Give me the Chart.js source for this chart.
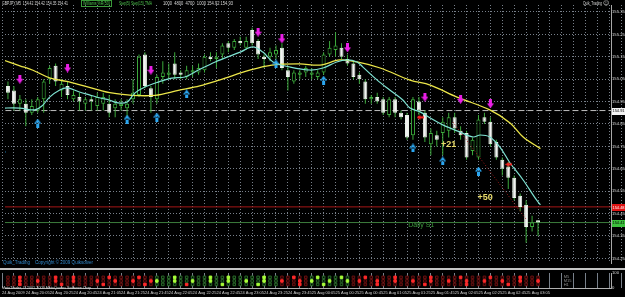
<!DOCTYPE html>
<html><head><meta charset="utf-8">
<script src="https://cdn.jsdelivr.net/npm/chart.js@4.4.1/dist/chart.umd.min.js"></script>
<style>
html,body{margin:0;padding:0;background:#000;width:625px;height:297px;overflow:hidden;}
#main{position:absolute;left:0;top:0;}
#sub{position:absolute;left:0;top:268px;}
</style></head><body>
<canvas id="main" width="625" height="268"></canvas>
<canvas id="sub" width="625" height="29"></canvas>
<script>
// ---------- DATA ----------
const opens  = [154.87,155.02,155.00,154.94,154.94,154.90,154.91,154.96,155.05,155.11,155.00,155.02,154.96,154.97,154.94,154.96,154.93,154.94,154.94,154.92,154.93,154.92,154.96,154.98,155.16,155.01,154.96,155.06,155.07,155.12,155.08,155.06,155.08,155.08,155.09,155.15,155.14,155.16,155.21,155.19,155.22,155.19,155.27,155.22,155.15,155.15,155.16,155.19,155.09,155.04,155.07,155.08,155.07,155.06,155.08,155.16,155.18,155.19,155.14,155.12,155.07,155.04,154.96,154.97,154.96,154.89,154.96,154.90,154.89,154.80,154.95,154.90,154.76,154.80,154.81,154.82,154.88,154.82,154.81,154.73,154.70,154.88,154.86,154.77,154.69,154.66,154.61,154.53,154.49,154.39,154.42];
const highs  = [155.05,155.04,155.02,154.98,154.96,154.96,154.97,155.05,155.11,155.12,155.05,155.04,155.00,154.99,154.97,154.98,154.99,154.99,154.98,154.96,154.96,154.96,155.05,155.16,155.17,155.02,155.07,155.13,155.12,155.17,155.09,155.11,155.11,155.12,155.16,155.17,155.17,155.21,155.22,155.23,155.24,155.24,155.28,155.23,155.16,155.19,155.20,155.21,155.11,155.09,155.09,155.11,155.10,155.09,155.17,155.22,155.26,155.21,155.16,155.13,155.08,155.05,154.98,154.99,154.97,154.97,154.97,154.91,154.90,154.97,154.97,154.91,154.83,154.82,154.88,154.90,154.90,154.84,154.82,154.79,154.89,154.90,154.88,154.78,154.70,154.68,154.62,154.54,154.51,154.44,154.42];
const lows   = [154.81,154.96,154.91,154.91,154.84,154.89,154.90,154.90,155.03,155.02,154.97,154.96,154.95,154.91,154.91,154.91,154.91,154.91,154.88,154.88,154.91,154.88,154.94,154.97,155.01,154.90,154.94,155.03,155.05,155.05,155.05,155.05,155.06,155.07,155.08,155.13,155.10,155.14,155.17,155.18,155.20,155.18,155.20,155.14,155.10,155.13,155.14,155.09,155.00,155.03,155.05,155.06,155.05,155.05,155.07,155.15,155.15,155.14,155.11,155.05,155.03,154.94,154.94,154.94,154.89,154.88,154.88,154.87,154.78,154.78,154.89,154.77,154.71,154.75,154.71,154.79,154.81,154.78,154.69,154.71,154.69,154.85,154.75,154.69,154.62,154.56,154.51,154.46,154.32,154.37,154.35];
const closes = [155.01,154.99,154.94,154.96,154.90,154.93,154.96,155.04,155.10,155.04,155.03,154.98,154.98,154.95,154.96,154.95,154.97,154.97,154.90,154.94,154.94,154.94,154.99,155.15,155.02,154.97,155.06,155.08,155.08,155.07,155.07,155.09,155.09,155.10,155.15,155.14,155.15,155.20,155.19,155.22,155.21,155.22,155.21,155.16,155.14,155.17,155.18,155.10,155.06,155.08,155.08,155.10,155.08,155.08,155.16,155.19,155.20,155.15,155.12,155.06,155.05,154.96,154.97,154.95,154.90,154.96,154.90,154.88,154.79,154.96,154.91,154.79,154.81,154.78,154.86,154.88,154.83,154.80,154.70,154.78,154.87,154.86,154.76,154.70,154.65,154.61,154.52,154.48,154.39,154.41,154.41];

const slowMaIdx = [-0.3,3,5.2,8.1,10.9,13.1,16.5,18.1,21.8,25.7,29.6,33.2,36.6,41.6,45.3,50,53.4,56.7,59.6,63.5,68.5,71.9,76.4,81.9,85.3,87.5,90.4];
const slowMaVal = [155.140,155.110,155.090,155.055,155.040,155.025,155.000,154.990,154.978,154.978,155.000,155.020,155.047,155.090,155.113,155.118,155.113,155.136,155.127,155.100,155.046,155.024,154.970,154.913,154.855,154.792,154.740];
const fastMaIdx = [-0.3,3,5.5,6.7,8,9.7,11,13,14.8,16.5,18,19.5,21,22.3,24,26.2,28.5,30.7,33,35.8,40,42.1,43.8,45.5,48.4,51.7,53.9,56.2,57.9,59.6,60.6,63,65.1,67.3,68.5,70.2,71.9,74,76.9,79.1,80.3,81.9,83.6,85.3,87.5,89.5,90.4];
const fastMaVal = [154.921,154.921,154.913,154.930,154.970,155.002,155.011,154.993,154.979,154.966,154.957,154.944,154.948,154.988,155.015,155.037,155.055,155.060,155.091,155.127,155.171,155.194,155.171,155.127,155.104,155.091,155.100,155.127,155.136,155.127,155.104,155.046,155.002,154.957,154.921,154.904,154.877,154.846,154.814,154.792,154.801,154.792,154.747,154.676,154.600,154.520,154.489];

const sellIdx   = [3,11,25,43,47,58,71,77,82];
const sellPrice = [155.05,155.10,155.09,155.26,155.23,155.19,154.97,154.96,154.94];
const buyIdx    = [0,6,21,26,31,46,54,69,74,80];
const buyPrice  = [154.725,154.854,154.872,154.881,154.984,155.118,155.046,154.743,154.685,154.640];
const exitIdx   = [70.2,85.1];
const exitPrice = [154.88,154.67];

const trendIdx   = [75.7,88.1];
const trendPrice = [154.859,154.421];

const levelValues = [154.91,154.48,154.41];
const signalTexts = ['+21','+50'];
const signalIdx   = [75,81.1];
const signalPrice = [154.76,154.52];
const levelNote = 'Daily S1', levelNoteIdx = 68.2, levelNotePrice = 154.40;

const yTicks = [155.35,155.25,155.15,155.05,154.95,154.85,154.75,154.65,154.55,154.45,154.35,154.25];
const timeLabels = ['24 Aug 2009','24 Aug 20:05','24 Aug 20:25','24 Aug 20:45','24 Aug 21:05','24 Aug 21:25','24 Aug 21:45','24 Aug 22:05','24 Aug 22:25','24 Aug 22:45','24 Aug 23:05','24 Aug 23:25','24 Aug 23:45','25 Aug 00:05','25 Aug 00:25','25 Aug 00:45','25 Aug 01:05','25 Aug 01:25','25 Aug 01:45','25 Aug 02:05','25 Aug 02:25','25 Aug 02:45','25 Aug 03:05'];

const rowNames = ['M5','M15','H1'];
const rowStates = [
  'rrrRrrrrrRrrRrrrrrRrrrrRrr'+'gggGgggggGggGgggggGgg'+'rrRrr'+'gGgggGg'+'rrRrrrrRrrrrrRrrrrRrrrrRrrrrRrrr',
  'RrrRrrRrrRrrRrrrRrrRrrRrrR'+'GggGggGggGggGggGggGgg'+'RrrRr'+'GggGggG'+'rRrrRrrRrrRrrRrrRrrRrrRrrRrrRrrR',
  'rrrRrrrrrrRrrrrrrRrrrrrrRr'+'gggggRgggggGgggggGggg'+'rrrRr'+'ggGgggg'+'rrrrRrrrrrrrRrrrrrrRrrrrrrRrrrrr'
];

// ---------- LAYOUT / STYLE ----------
// pixel mapping wanted: x = 2 + i*BAR_PX ; y = 12 + (155.35 - price)*PX_PER_UNIT
const BAR_PX = 5.956, PX_PER_UNIT = 224, TOP_TICK = 155.35;
const gridColor = 'rgba(150,160,172,0.8)';
const FONT = '"Liberation Sans", Arial, sans-serif';
const candleGreen = '#3caa3c';

function arrowImg(color, dir){
  const c = document.createElement('canvas');
  const g = c.getContext('2d');
  if (dir === 'left'){ c.width = 7; c.height = 5; }
  else { c.width = 7; c.height = 9; }
  g.fillStyle = color; g.beginPath();
  if (dir === 'down'){ g.rect(2,0,3,5); g.moveTo(0,4); g.lineTo(7,4); g.lineTo(3.5,9); g.closePath(); }
  else if (dir === 'up'){ g.rect(2,4,3,5); g.moveTo(0,5); g.lineTo(7,5); g.lineTo(3.5,0); g.closePath(); }
  else { g.rect(3,1.5,4,2); g.moveTo(0,2.5); g.lineTo(3.5,0); g.lineTo(3.5,5); g.closePath(); }
  g.fill();
  return c;
}
const sellImg = arrowImg('#ea1fe6','down');
const buyImg  = arrowImg('#2ba6f0','up');
const exitImg = arrowImg('#ff2222','left');

const wickData = opens.map((o,i)=>({x:i, y:[lows[i], highs[i]]}));
const bodyData = opens.map((o,i)=>({x:i, y:[o, closes[i]]}));
const bodyFill = opens.map((o,i)=> closes[i] > o ? '#000000' : '#f2f2f2');
const bodyEdge = opens.map((o,i)=> closes[i] > o ? candleGreen : '#e8f4e8');
const pts = (xs, ys) => xs.map((v,k)=>({x:v, y:ys[k]}));
const hline = v => [{x:-10,y:v},{x:120,y:v}];
const evenTicks = s => { const t=[]; for(let v=0; v<=104; v+=2) t.push({value:v}); s.ticks=t; };

function fitMapping(chart, withY){
  const ca = chart.chartArea;
  const xs = chart.options.scales.x;
  xs.min = (ca.left - 2) / BAR_PX;
  xs.max = (ca.right - 2) / BAR_PX;
  if (withY){
    const ys = chart.options.scales.y;
    ys.max = TOP_TICK + (12 - ca.top) / PX_PER_UNIT;
    ys.min = TOP_TICK - (ca.bottom - 12) / PX_PER_UNIT;
  }
  chart.update('none');
}

const mainDeco = {
  id:'mainDeco',
  afterDatasetsDraw(chart){
    const {ctx, chartArea, scales:{x,y}} = chart;
    ctx.save();
    ctx.beginPath(); ctx.rect(chartArea.left, chartArea.top, chartArea.width, chartArea.height); ctx.clip();
    ctx.textBaseline = 'middle';
    ctx.font = 'bold 9px ' + FONT; ctx.fillStyle = '#e9dc6c'; ctx.textAlign = 'center';
    signalTexts.forEach((t,k)=>ctx.fillText(t, x.getPixelForValue(signalIdx[k]), y.getPixelForValue(signalPrice[k])));
    ctx.font = '7px ' + FONT; ctx.fillStyle = '#3f9a3f'; ctx.textAlign = 'left';
    ctx.fillText(levelNote, x.getPixelForValue(levelNoteIdx), y.getPixelForValue(levelNotePrice));
    ctx.restore();
  },
  afterDraw(chart){
    const {ctx, scales:{y}} = chart;
    ctx.save();
    ctx.textBaseline = 'middle'; ctx.textAlign = 'left';
    // header texts
    ctx.font = '4.6px ' + FONT; ctx.fillStyle = '#d6d6d6';
    ctx.fillText('GBPJPY,M5  154.42 154.42 154.35 154.41', 2, 3.5, 66);
    ctx.strokeStyle = '#3a9a3a'; ctx.lineWidth = 1; ctx.strokeRect(81.5, 0.5, 30, 6);
    ctx.fillStyle = '#4cc04c'; ctx.fillText('Williams %R(50)', 83, 3.5, 27);
    ctx.fillText('Step(5) Step(15) TMA', 119, 3.5, 33);
    ctx.fillStyle = '#d6d6d6'; ctx.fillText('1000  4800  4700  1000 154.92 154.93', 163, 3.5, 70);
    ctx.fillText('Quik_Trading', 583, 3.5, 19);
    ctx.font = '6px "DejaVu Sans"'; ctx.fillText('\u263A', 603, 3.5);
    ctx.font = '5px ' + FONT; ctx.fillStyle = '#2f86c8';
    ctx.fillText('Quik_Trading    Copyright \u00A9 2009 Quiksolver', 3, 263, 90);
    // axis boxes
    const fills = ['#f4f4f4','#e01414','#3cc03c'];
    const txt = ['#000','#fff','#000'];
    ctx.font = '4.4px ' + FONT;
    levelValues.forEach((v,k)=>{
      const py = y.getPixelForValue(v);
      ctx.fillStyle = fills[k]; ctx.fillRect(y.left + 1, Math.round(py) - 3, 14, 7);
      ctx.fillStyle = txt[k]; ctx.fillText(v.toFixed(2), y.left + 1.5, py + 0.5, 12);
    });
    ctx.restore();
  }
};

const mainChart = new Chart(document.getElementById('main'), {
  type:'bar',
  data:{ datasets:[
    {type:'line', data:hline(levelValues[0]), borderColor:'#bdbdbd', borderWidth:1, borderDash:[6,3], pointRadius:0, order:6},
    {type:'line', data:hline(levelValues[1]), borderColor:'#a51616', borderWidth:1, pointRadius:0, order:6},
    {type:'line', data:hline(levelValues[2]), borderColor:'#3c7c3c', borderWidth:1, pointRadius:0, order:6},
    {data:wickData, backgroundColor:candleGreen, barThickness:1, grouped:false, inflateAmount:0, order:5},
    {data:bodyData, backgroundColor:bodyFill, borderColor:bodyEdge, borderWidth:1, borderSkipped:false, barThickness:4, minBarLength:1, grouped:false, inflateAmount:0, order:4},
    {type:'line', data:pts(slowMaIdx, slowMaVal), borderColor:'#ece64a', borderWidth:1.3, pointRadius:0, tension:0.35, order:3},
    {type:'line', data:pts(fastMaIdx, fastMaVal), borderColor:'#7fe2d2', borderWidth:1.2, pointRadius:0, tension:0.35, order:2},
    {type:'line', data:pts(trendIdx, trendPrice), borderColor:'#a01a1a', borderWidth:1, borderDash:[1,2], pointRadius:0, order:2},
    {type:'line', data:pts(sellIdx, sellPrice), showLine:false, pointStyle:sellImg, pointRadius:4, order:0},
    {type:'line', data:pts(buyIdx, buyPrice), showLine:false, pointStyle:buyImg, pointRadius:4, order:0},
    {type:'line', data:pts(exitIdx, exitPrice), showLine:false, pointStyle:exitImg, pointRadius:4, order:0}
  ]},
  options:{
    responsive:false, animation:false, events:[],
    layout:{padding:0},
    plugins:{legend:{display:false}, tooltip:{enabled:false}},
    scales:{
      x:{type:'linear', min:-0.336, max:102.25, offset:false,
         afterBuildTicks:evenTicks,
         ticks:{display:false, autoSkip:false, padding:0},
         grid:{color:gridColor, drawTicks:false, offset:false},
         border:{display:false, dash:[1,2]},
         afterFit:s=>{ s.height=0; s.paddingLeft=0; s.paddingRight=0; }},
      y:{position:'right', min:154.207, max:155.4036,
         afterBuildTicks:s=>{ s.ticks = yTicks.map(v=>({value:v})); },
         ticks:{color:'#d8d8d8', font:{size:4.2, family:FONT, lineHeight:0.05}, padding:0, callback:v=>Number(v).toFixed(2)},
         grid:{color:gridColor, drawTicks:true, tickLength:1},
         border:{display:true, color:'#a8a8a8', dash:[1,2]},
         afterFit:s=>{ s.width=14; s.paddingTop=0; s.paddingBottom=0; }}
    }
  },
  plugins:[mainDeco]
});
fitMapping(mainChart, true);

// ---------- BOTTOM PANEL ----------
const rowLevels = [71,47,24];
const sqFill = {R:'#ff2a2a', r:'#1e0303', G:'#a8ff3a', g:'#031203'};
const sqEdge = {R:'#ff2a2a', r:'#6a1010', G:'#a8ff3a', g:'#2a6a2a'};
const cols = opens.map((o,i)=>i);

const subDeco = {
  id:'subDeco',
  beforeDraw(chart){
    const {ctx} = chart;
    ctx.save(); ctx.fillStyle = '#c4c4c4'; ctx.fillRect(0,0,625,2); ctx.restore();
  },
  afterDraw(chart){
    const {ctx, scales:{x,y}} = chart;
    ctx.save();
    ctx.font = '4px ' + FONT; ctx.textBaseline = 'middle'; ctx.textAlign = 'left';
    ctx.fillStyle = '#8c8c8c';
    rowNames.forEach((n,k)=>ctx.fillText(n, x.getPixelForValue(94.3), y.getPixelForValue(rowLevels[k])));
    ctx.fillStyle = '#d8d8d8';
    ctx.font = '4.3px ' + FONT;
    ctx.fillText('MetaTrader, \u00A9 2001-2009 MetaQuotes Software Corp.', 2, 19.5, 90);
    ctx.restore();
  }
};

const subChart = new Chart(document.getElementById('sub'), {
  type:'line',
  data:{ datasets: rowStates.map((row,k)=>({
    data: cols.map(i=>({x:i, y:rowLevels[k]})),
    showLine:false, pointStyle:'rect', pointRadius:1.8, pointBorderWidth:1,
    pointBackgroundColor: cols.map(i=>sqFill[row[i]] || 'rgba(0,0,0,0)'),
    pointBorderColor: cols.map(i=>sqEdge[row[i]] || 'rgba(0,0,0,0)')
  }))},
  options:{
    responsive:false, animation:false, events:[],
    layout:{padding:{top:3,left:0,right:0,bottom:0}},
    plugins:{legend:{display:false}, tooltip:{enabled:false}},
    scales:{
      x:{type:'linear', min:-0.336, max:102.25, offset:false,
         afterBuildTicks:evenTicks,
         ticks:{autoSkip:false, maxRotation:0, minRotation:0, align:'start', padding:2, color:'#cfcfcf', font:{size:4, family:FONT},
                callback:v=>{ const i=Math.round(v); return (i%4===0 && timeLabels[i/4]) ? timeLabels[i/4] : ''; }},
         grid:{color:gridColor, drawTicks:false, offset:false},
         border:{display:true, color:'#b0b0b0'},
         afterFit:s=>{ s.height=9; s.paddingLeft=0; s.paddingRight=0; }},
      y:{position:'right', min:0, max:100,
         afterBuildTicks:s=>{ s.ticks=[{value:0},{value:100}]; },
         ticks:{color:'#d4d4d4', font:{size:4.2, family:FONT, lineHeight:0.05}, padding:1},
         grid:{display:false, drawTicks:false},
         border:{display:true, color:'#a8a8a8'},
         afterFit:s=>{ s.width=14; s.paddingTop=0; s.paddingBottom=0; }}
    }
  },
  plugins:[subDeco]
});
fitMapping(subChart, false);
</script>
</body></html>
